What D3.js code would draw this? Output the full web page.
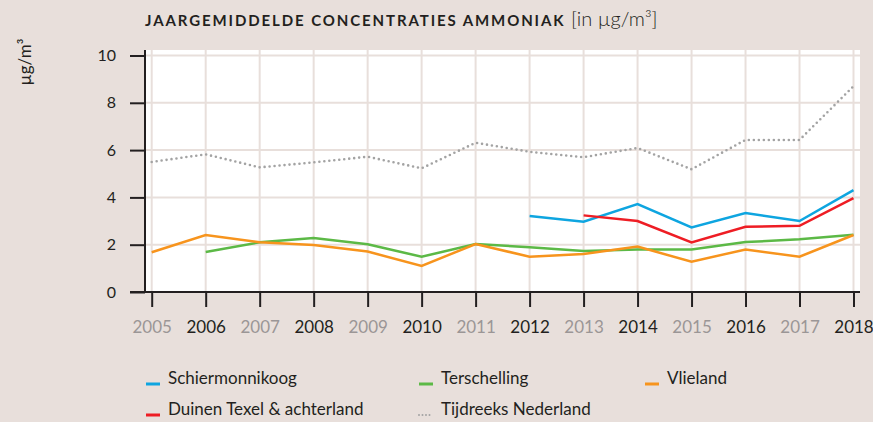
<!DOCTYPE html>
<html><head><meta charset="utf-8">
<script src="https://cdn.jsdelivr.net/npm/d3@7/dist/d3.min.js"></script>
<style>
html,body{margin:0;padding:0;background:#e8dfdb;}
svg{display:block;font-family:"Lato","Open Sans",sans-serif;}
</style></head><body>
<svg id="c" width="873" height="422"></svg>
<script>
const years = [2005,2006,2007,2008,2009,2010,2011,2012,2013,2014,2015,2016,2017,2018];
const yTicks = [0,2,4,6,8,10];
const tijdreeks = [5.5,5.82,5.27,5.48,5.72,5.23,6.31,5.93,5.7,6.09,5.19,6.43,6.43,8.7];
const vlieland = [1.68,2.41,2.1,1.99,1.71,1.1,2.03,1.49,1.61,1.92,1.28,1.8,1.49,2.41];
const terschelling = [null,1.69,2.1,2.28,2.02,1.49,2.03,1.89,1.73,1.8,1.8,2.11,2.23,2.42];
const schiermonnikoog = [null,null,null,null,null,null,null,3.21,2.97,3.72,2.73,3.34,3.0,4.31];
const texel = [null,null,null,null,null,null,null,null,3.24,3.0,2.1,2.76,2.8,3.97];
const seriesNames = ["Schiermonnikoog","Terschelling","Vlieland","Duinen Texel & achterland","Tijdreeks Nederland"];

const svg = d3.select("#c");
const x = d3.scaleLinear().domain([2005,2018]).range([151.7,853.5]);
const y = d3.scaleLinear().domain([0,10]).range([292,55.5]);
const ink = "#231f20";
const grid = "#e8dfdb";

// plot background
svg.append("rect").attr("x",145).attr("y",50).attr("width",860-145).attr("height",292-50).attr("fill","#ffffff");

// gridlines
svg.append("g").selectAll("line").data(years).join("line")
  .attr("x1",d=>x(d)).attr("x2",d=>x(d)).attr("y1",50).attr("y2",292)
  .attr("stroke",grid).attr("stroke-width",2);
svg.append("g").selectAll("line").data(yTicks.filter(d=>d>0)).join("line")
  .attr("x1",145).attr("x2",860).attr("y1",d=>y(d)).attr("y2",d=>y(d))
  .attr("stroke",grid).attr("stroke-width",2);

// series
const line = d3.line().defined(d=>d[1]!=null).x(d=>x(d[0])).y(d=>y(d[1]));
const series = [
  {v:tijdreeks,c:"#a3a3a3",dash:"0,5",w:2.6,cap:"round"},
  {v:terschelling,c:"#5cb946",w:2.5},
  {v:vlieland,c:"#f7941d",w:2.5},
  {v:schiermonnikoog,c:"#0ea5e0",w:2.5},
  {v:texel,c:"#ee1d24",w:2.5}
];
series.forEach(s=>{
  svg.append("path").datum(years.map((yr,i)=>[yr,s.v[i]]))
    .attr("d",line).attr("fill","none").attr("stroke",s.c)
    .attr("stroke-width",s.w).attr("stroke-dasharray",s.dash||null)
    .attr("stroke-linecap",s.cap||"butt").attr("stroke-linejoin","miter");
});

// axes
const yAxis = d3.axisLeft(y).tickValues(yTicks).tickSize(15).tickPadding(14).tickFormat(d3.format("d"));
const gy = svg.append("g").attr("transform","translate(145,0)").call(yAxis);
gy.select(".domain").remove();
gy.selectAll(".tick line").attr("stroke",ink).attr("stroke-width",2);
gy.selectAll(".tick text").attr("fill",ink).attr("font-size",16).attr("font-family","Lato, sans-serif");
svg.append("line").attr("x1",145).attr("x2",145).attr("y1",50).attr("y2",293).attr("stroke",ink).attr("stroke-width",2);

const xAxis = d3.axisBottom(x).tickValues(years).tickSize(15).tickPadding(14).tickFormat(d3.format("d"));
const gx = svg.append("g").attr("transform","translate(0,292)").call(xAxis);
gx.select(".domain").remove();
gx.selectAll(".tick line").attr("stroke",ink).attr("stroke-width",2);
gx.selectAll(".tick text").attr("font-size",17).attr("font-family","Lato, sans-serif")
  .attr("fill",d=>d%2===0?ink:"#9b9696");
svg.append("line").attr("x1",130).attr("x2",860).attr("y1",292).attr("y2",292).attr("stroke",ink).attr("stroke-width",2);

// title
const t = svg.append("text").attr("x",145).attr("y",26).attr("fill",ink);
t.append("tspan").text("JAARGEMIDDELDE CONCENTRATIES AMMONIAK").attr("font-weight","bold").attr("font-size",15).attr("letter-spacing",1.9);
t.append("tspan").text(" [in µg/m³]").attr("font-size",20).attr("font-weight","300").attr("letter-spacing",0);

// y label
svg.append("text").attr("transform","translate(31,62) rotate(-90)").attr("text-anchor","middle")
  .attr("font-size",17).attr("fill",ink).text("µg/m³");

// legend
const legendColors = ["#0ea5e0","#5cb946","#f7941d","#ee1d24","#a3a3a3"];
const legendPos = [[145,380],[418,380],[644,380],[145,411],[418,411]];
seriesNames.forEach((n,i)=>{
  const [lx,ly]=legendPos[i];
  svg.append("line").attr("x1",lx+1).attr("x2",lx+15).attr("y1",ly+4).attr("y2",ly+4)
    .attr("stroke",legendColors[i]).attr("stroke-width",i===4?2:3)
    .attr("stroke-dasharray",i===4?"0,3.5":null).attr("stroke-linecap",i===4?"round":"butt");
  svg.append("text").attr("x",lx+23).attr("y",ly+4).attr("font-size",17).attr("fill",ink).text(n);
});
</script>
</body></html>
